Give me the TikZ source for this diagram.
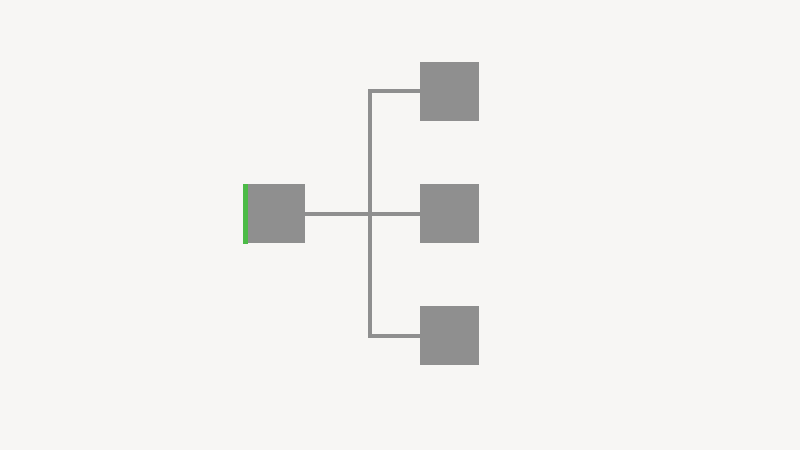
\documentclass[tikz,border=0pt]{standalone}
\definecolor{bg}{HTML}{F7F6F4}
\definecolor{boxgray}{HTML}{8F8F8F}
\definecolor{linegray}{HTML}{8F8F8F}
\definecolor{accent}{HTML}{4CBB47}
\begin{document}
\begin{tikzpicture}[x=1pt,y=1pt,
  blk/.style={fill=boxgray,draw=none,inner sep=0pt,minimum width=58.7pt,minimum height=59.5pt},
  conn/.style={draw=linegray,line width=4pt,line join=miter}]
\fill[bg] (0,0) rectangle (800,450);
\useasboundingbox (0,0) rectangle (800,450);
\node[blk,minimum width=62pt] (L) at (274.2,236.3) {};
\fill[accent] (L.south west) rectangle ([xshift=4.6pt]L.north west);
\node[blk] (T) at (449.3,358.5) {};
\node[blk] (M) at (449.3,236.3) {};
\node[blk] (B) at (449.3,114.3) {};
\coordinate (j) at (369.5,236.3);
\draw[conn] (L.east) -- (M.west);
\draw[conn] (T.west) -| (j) |- (B.west);
\end{tikzpicture}
\end{document}
